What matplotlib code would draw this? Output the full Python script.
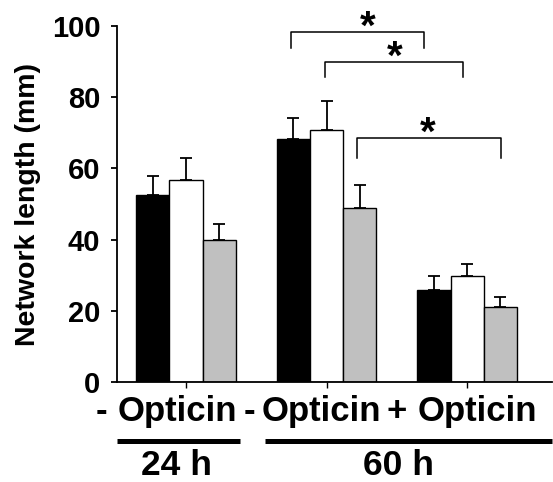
import numpy as np
import matplotlib
matplotlib.use("Agg")
import matplotlib.pyplot as plt
import matplotlib.transforms as mtransforms

plt.rcParams['font.family'] = ['Liberation Sans', 'DejaVu Sans']
plt.rcParams['font.weight'] = 'bold'

# data
signs = ['-', '-', '+']
treatment = 'Opticin'
black_vals = [52.6, 68.2, 25.9]
black_err = [5.3, 5.9, 3.8]
white_vals = [56.8, 70.9, 29.7]
white_err = [6.2, 8.1, 3.4]
grey_vals = [39.9, 48.9, 21.0]
grey_err = [4.5, 6.5, 3.0]
yticks = [0, 20, 40, 60, 80, 100]
time_labels = ['24 h', '60 h']

# significance brackets: (x left, x right, y top, y bottom of legs)
brackets = [(0.746, 1.69, 98.2, 93.9), (0.986, 1.97, 89.8, 85.7), (1.218, 2.24, 68.6, 62.8)]
star_pos = [(1.289, 99.6), (1.484, 91.2), (1.716, 69.7)]

fig = plt.figure(figsize=(5.53, 4.82), dpi=100)
ax = fig.add_axes([0.2116, 0.2075, 0.786, 0.7385])

x = np.arange(len(signs))
w = 0.236
ekw = dict(ecolor='black', elinewidth=1.3, capsize=4.5, capthick=1.3)
for off, vals, err, col in [(-w, black_vals, black_err, 'black'),
                            (0, white_vals, white_err, 'white'),
                            (w, grey_vals, grey_err, '#c0c0c0')]:
    ax.bar(x + off, vals, w, color=col, edgecolor='black', linewidth=1.0,
           yerr=[np.zeros(len(err)), err], error_kw=ekw, zorder=2)

ax.set_xlim(-0.49, 2.6)
ax.set_ylim(0, 100)
ax.set_yticks(yticks)
ax.set_xticks(x)
ax.set_xticklabels([])
ax.tick_params(axis='y', labelsize=21, length=4, width=1.3, pad=8)
ax.tick_params(axis='x', length=4, width=1.0)
for t in ax.get_yticklabels():
    t.set_fontweight('bold')
for s in ['top', 'right']:
    ax.spines[s].set_visible(False)
ax.spines['left'].set_linewidth(1.3)
ax.spines['bottom'].set_linewidth(1.3)
ax.set_ylabel('Network length (mm)', fontsize=20.5, fontweight='bold', labelpad=8)

for (x0, x1, ytop, ybot) in brackets:
    ax.plot([x0, x0, x1, x1], [ybot, ytop, ytop, ybot], color='black', lw=1.1, clip_on=False)
for (sx, sy) in star_pos:
    ax.text(sx, sy, '*', fontsize=29, fontweight='bold', ha='center', va='center')

trans = mtransforms.blended_transform_factory(ax.transData, fig.transFigure)
sign_x = [-0.599, 0.45, 1.50]
name_x = [-0.063, 0.96, 2.070]
for sx, nx, sg in zip(sign_x, name_x, signs):
    ax.text(sx, 0.127, sg, transform=trans, fontsize=25, fontweight='bold',
            ha='center', va='baseline')
    ax.text(nx, 0.127, treatment, transform=trans, fontsize=25, fontweight='bold',
            ha='center', va='baseline')

time_lines = [(-0.488, 0.387), (0.563, 2.6)]
time_x = [-0.07, 1.51]
for (l0, l1) in time_lines:
    ax.plot([l0, l1], [0.086, 0.086], transform=trans, color='black', lw=3.6,
            clip_on=False, solid_capstyle='butt')
for tx, tl in zip(time_x, time_labels):
    ax.text(tx, 0.014, tl, transform=trans, fontsize=25.5, fontweight='bold',
            ha='center', va='baseline')

fig.savefig('out.png', dpi=100)
